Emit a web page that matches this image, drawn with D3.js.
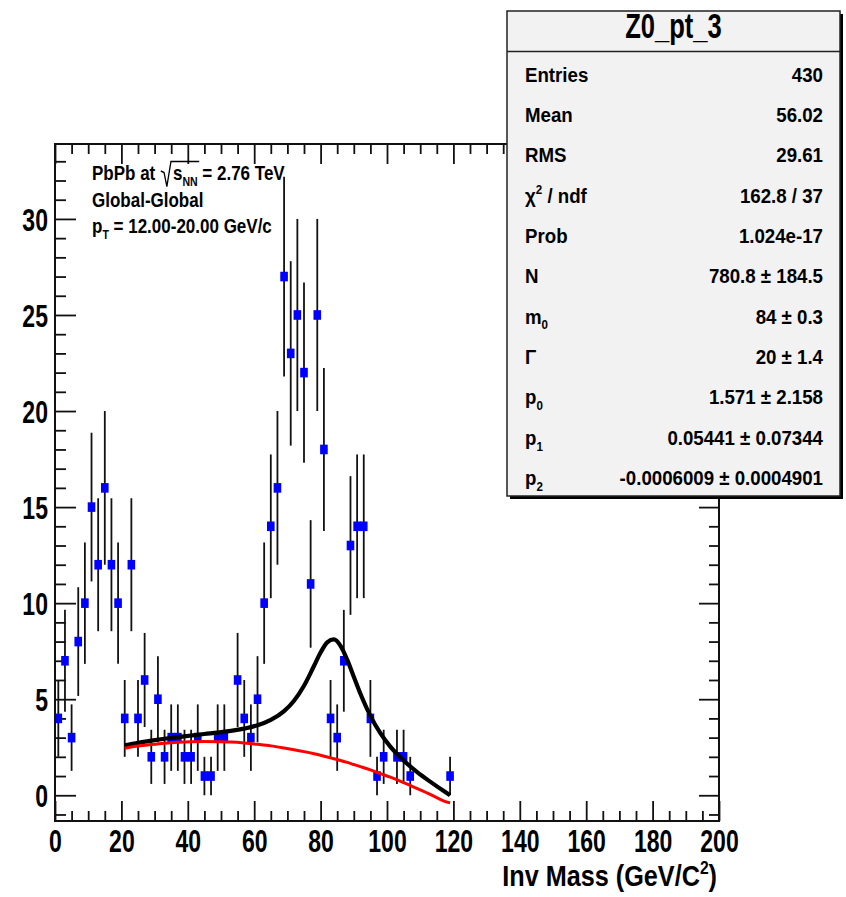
<!DOCTYPE html>
<html><head><meta charset="utf-8">
<script src="https://cdn.jsdelivr.net/npm/d3@7"></script>
<style>
body{margin:0;background:#fff}
svg{display:block}
text{font-family:"Liberation Sans",Arial,Helvetica,sans-serif;font-weight:bold;fill:#000}
</style></head>
<body><div id="chart"></div>
<script>
// ---- data ----
const binCenters = [1,3,5,7,9,11,13,15,17,19,21,23,25,27,29,31,33,35,37,39,41,43,45,47,49,51,
  55,57,59,61,63,65,67,69,71,73,75,77,79,81,83,85,87,89,91,93,95,97,99,103,105,107,119];
const counts = [4,7,3,8,10,15,12,16,12,10,4,12,4,6,2,5,2,3,3,2,2,3,1,1,3,3,
  6,4,3,5,10,14,16,27,23,25,22,11,25,18,4,3,7,13,14,14,4,1,2,2,2,1,1];
const countErrors = [2,2.65,1.73,2.83,3.16,3.87,3.46,4,3.46,3.16,2,3.46,2,2.45,1.41,2.24,1.41,1.73,1.73,1.41,1.41,1.73,1,1,1.73,1.73,
  2.45,2,1.73,2.24,3.16,3.74,4,5.2,4.8,5,4.69,3.32,5,4.24,2,1.73,2.65,3.61,3.74,3.74,2,1,1.41,1.41,1.41,1,1];
const binHalfWidth = 1;

const fitMass = [21,25,29,33,37,41,45,49,53,57,61,65,69,72,75,78,80,82,84,86,88,90,92,95,98,101,105,109,113,117,119];
const fitTotal = [2.60,2.73,2.84,2.94,3.03,3.11,3.19,3.26,3.35,3.47,3.64,3.92,4.38,4.92,5.70,6.73,7.43,7.96,8.11,7.78,7.06,6.17,5.28,4.13,3.23,2.53,1.81,1.22,0.71,0.23,0.00];
const fitBackground = [2.45,2.56,2.64,2.71,2.76,2.79,2.80,2.79,2.77,2.72,2.65,2.57,2.46,2.37,2.27,2.16,2.08,1.99,1.90,1.81,1.71,1.60,1.49,1.32,1.13,0.94,0.66,0.36,0.05,-0.29,-0.40];

const xMajorTicks = [0,20,40,60,80,100,120,140,160,180,200];
const yMajorTicks = [0,5,10,15,20,25,30];

const statTitle = "Z0_pt_3";
const statLabels = ["Entries","Mean","RMS","χ^2 / ndf","Prob","N","m_0","Γ","p_0","p_1","p_2"];
const statValues = ["430","56.02","29.61","162.8 / 37","1.024e-17","780.8 ± 184.5","84 ± 0.3","20 ± 1.4",
  "1.571 ± 2.158","0.05441 ± 0.07344","-0.0006009 ± 0.0004901"];

const xTitle = "Inv Mass (GeV/C^2)";

// ---- layout ----
const W = 846, H = 897;
const svg = d3.select("#chart").append("svg").attr("width", W).attr("height", H);
svg.append("rect").attr("width", W).attr("height", H).attr("fill", "#fff");

const fx0 = 55, fx1 = 719, fy0 = 144, fy1 = 821;
const x = d3.scaleLinear().domain([0, 200]).range([fx0, fx1]);
const y = d3.scaleLinear().domain([-1.34, 33.9]).range([fy1, fy0]);

const xMinor = d3.range(0, 201, 5).filter(v => v % 20 !== 0);
const yMinor = d3.range(-1, 34, 1).filter(v => v % 5 !== 0);

function richText(sel, str, fs) {
  const tokens = []; let buf = ''; let i = 0;
  while (i < str.length) {
    const c = str[i];
    if ((c === '_' || c === '^') && i + 1 < str.length) {
      if (buf) { tokens.push({ t: buf, k: 0 }); buf = ''; }
      let s;
      if (str[i + 1] === '{') { const j = str.indexOf('}', i); s = str.slice(i + 2, j); i = j + 1; }
      else { s = str[i + 1]; i += 2; }
      tokens.push({ t: s, k: c === '_' ? 1 : -1 });
    } else { buf += c; i++; }
  }
  if (buf) tokens.push({ t: buf, k: 0 });
  let cur = 0;
  tokens.forEach(tk => {
    const target = tk.k === 1 ? fs * 0.28 : tk.k === -1 ? -fs * 0.42 : 0;
    sel.append("tspan").text(tk.t).attr("dy", target - cur)
      .attr("font-size", tk.k ? fs * 0.62 : fs);
    cur = target;
  });
}

// ---- axes ticks ----
const axStroke = "#111";
function styleAxis(g) {
  g.select(".domain").remove();
  g.selectAll(".tick line").attr("stroke", axStroke).attr("stroke-width", 1.8);
}
const tickFont = 32, tickSX = 0.72;

// bottom
const gB = svg.append("g").attr("transform", `translate(0,${fy1})`)
  .call(d3.axisBottom(x).tickValues(xMajorTicks).tickSize(-20).tickPadding(8).tickFormat(d3.format("d")));
styleAxis(gB);
gB.selectAll(".tick text").attr("font-size", tickFont).attr("font-family", null)
  .attr("transform", `scale(${tickSX},1)`).attr("dy", "0.71em");
svg.append("g").attr("transform", `translate(0,${fy1})`)
  .call(d3.axisBottom(x).tickValues(xMinor).tickSize(-10).tickFormat("")).call(styleAxis);
// top
svg.append("g").attr("transform", `translate(0,${fy0})`)
  .call(d3.axisTop(x).tickValues(xMajorTicks).tickSize(-20).tickFormat("")).call(styleAxis);
svg.append("g").attr("transform", `translate(0,${fy0})`)
  .call(d3.axisTop(x).tickValues(xMinor).tickSize(-10).tickFormat("")).call(styleAxis);
// left
const gL = svg.append("g").attr("transform", `translate(${fx0},0)`)
  .call(d3.axisLeft(y).tickValues(yMajorTicks).tickSize(-21).tickPadding(0).tickFormat(d3.format("d")));
styleAxis(gL);
gL.selectAll(".tick text").attr("font-size", tickFont).attr("font-family", null)
  .attr("x", 0).attr("dy", "0.36em").attr("transform", `translate(-7,0) scale(${tickSX},1)`);
svg.append("g").attr("transform", `translate(${fx0},0)`)
  .call(d3.axisLeft(y).tickValues(yMinor).tickSize(-11).tickFormat("")).call(styleAxis);
// right
svg.append("g").attr("transform", `translate(${fx1},0)`)
  .call(d3.axisRight(y).tickValues(yMajorTicks).tickSize(-20).tickFormat("")).call(styleAxis);
svg.append("g").attr("transform", `translate(${fx1},0)`)
  .call(d3.axisRight(y).tickValues(yMinor).tickSize(-10).tickFormat("")).call(styleAxis);

// ---- data ----
const pts = binCenters.map((c, i) => ({ x: c, y: counts[i], e: countErrors[i] }));
const gData = svg.append("g");
gData.selectAll("line.err").data(pts).join("line").attr("class", "err")
  .attr("x1", d => x(d.x)).attr("x2", d => x(d.x))
  .attr("y1", d => y(d.y - d.e)).attr("y2", d => y(d.y + d.e))
  .attr("stroke", "#111").attr("stroke-width", 1.8);
gData.selectAll("line.herr").data(pts).join("line").attr("class", "herr")
  .attr("x1", d => x(d.x - binHalfWidth)).attr("x2", d => x(d.x + binHalfWidth))
  .attr("y1", d => y(d.y)).attr("y2", d => y(d.y))
  .attr("stroke", "#0000ff").attr("stroke-width", 1.5);
const mw = 7.6, mh = 9.6;
gData.selectAll("rect.pt").data(pts).join("rect").attr("class", "pt")
  .attr("x", d => x(d.x) - mw / 2).attr("y", d => y(d.y) - mh / 2)
  .attr("width", mw).attr("height", mh).attr("fill", "#0000ff");

// ---- fit curves ----
const lineGen = d3.line().x((d, i) => x(fitMass[i])).y(d => y(d)).curve(d3.curveMonotoneX);
svg.append("path").attr("d", lineGen(fitTotal)).attr("fill", "none")
  .attr("stroke", "#000").attr("stroke-width", 4.2).attr("stroke-linejoin", "round");
svg.append("path").attr("d", lineGen(fitBackground)).attr("fill", "none")
  .attr("stroke", "#ff0000").attr("stroke-width", 3).attr("stroke-linejoin", "round");

// ---- frame ----
svg.append("rect").attr("x", fx0).attr("y", fy0).attr("width", fx1 - fx0).attr("height", fy1 - fy0)
  .attr("fill", "none").attr("stroke", axStroke).attr("stroke-width", 2);

// ---- x title ----
const gT = svg.append("g").attr("transform", "translate(717,886) scale(0.87,1)");
const tT = gT.append("text").attr("text-anchor", "end").attr("font-size", 29);
richText(tT, xTitle, 29);

// ---- top-left label ----
const lsx = 0.81, lfs = 21;
const gLab = svg.append("g").attr("transform", `translate(92,180) scale(${lsx},1)`);
const t1 = gLab.append("text").attr("font-size", lfs);
t1.append("tspan").text("PbPb at ");
t1.append("tspan").attr("dx", 16).text("s");
t1.append("tspan").attr("font-size", 13).attr("dy", 6).text("NN");
t1.append("tspan").attr("dy", -6).text(" = 2.76 TeV");
{
  const n = t1.node();
  const sPos = n.getStartPositionOfChar(8).x;
  const nnEnd = n.getEndPositionOfChar(10).x;
  gLab.append("path")
    .attr("d", `M${sPos - 15},-9 L${sPos - 11},-7.5 L${sPos - 7.5},6.5 L${sPos - 2.5},-18.5 L${nnEnd + 2},-18.5`)
    .attr("fill", "none").attr("stroke", "#000").attr("stroke-width", 1.6);
}
gLab.append("text").attr("font-size", lfs).attr("y", 27).text("Global-Global");
const t3 = gLab.append("text").attr("font-size", lfs).attr("y", 53);
richText(t3, "p_T = 12.00-20.00 GeV/c", lfs);

// ---- stats box ----
const bx0 = 507, bx1 = 840, by0 = 11, by1 = 496;
svg.append("rect").attr("x", bx0 + 3).attr("y", by0 + 3).attr("width", bx1 - bx0).attr("height", by1 - by0).attr("fill", "#000");
svg.append("rect").attr("x", bx0).attr("y", by0).attr("width", bx1 - bx0).attr("height", by1 - by0)
  .attr("fill", "#f2f2f2").attr("stroke", "#222").attr("stroke-width", 1.5);
svg.append("line").attr("x1", bx0).attr("x2", bx1).attr("y1", 51.5).attr("y2", 51.5).attr("stroke", "#222").attr("stroke-width", 1.5);
svg.append("g").attr("transform", "translate(673.5,38) scale(0.73,1)")
  .append("text").attr("text-anchor", "middle").attr("font-size", 35).text(statTitle);
const sfs = 21, ssx = 0.89;
statLabels.forEach((lab, i) => {
  const yb = 81.5 + i * 40.35;
  const gl = svg.append("g").attr("transform", `translate(525,${yb}) scale(${ssx},1)`);
  richText(gl.append("text").attr("font-size", sfs), lab, sfs);
  svg.append("g").attr("transform", `translate(823,${yb}) scale(${ssx},1)`)
    .append("text").attr("text-anchor", "end").attr("font-size", sfs).text(statValues[i]);
});
</script></body></html>
